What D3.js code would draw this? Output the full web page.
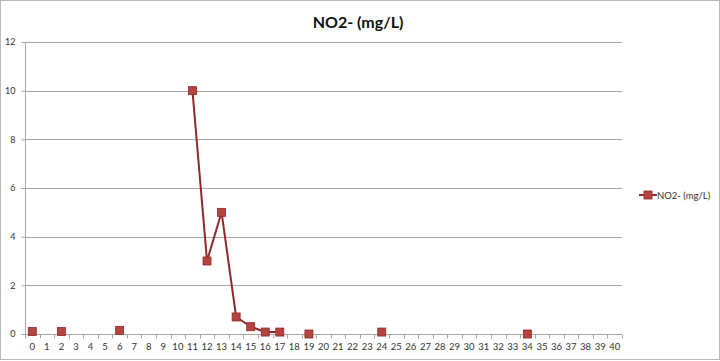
<!DOCTYPE html>
<html><head><meta charset="utf-8">
<script src="https://cdn.jsdelivr.net/npm/d3@7"></script>
<style>body{margin:0;background:#fff}svg{display:block}</style>
</head><body>
<svg id="c" width="720" height="361"></svg>
<script>
const categories = d3.range(0, 41).map(String);
const xValues = [0, 2, 6, 11, 12, 13, 14, 15, 16, 17, 19, 24, 34];
const no2Values = [0.1, 0.1, 0.15, 10, 3, 5, 0.7, 0.3, 0.08, 0.08, 0, 0.08, 0];
const yTicks = [0, 2, 4, 6, 8, 10, 12];
const seriesName = "NO2- (mg/L)";
const title = "NO2- (mg/L)";

(function () {
const font = "Lato, 'Open Sans', sans-serif";
const svg = d3.select("#c");
const pLeft = 25, pRight = 622, pTop = 42, pBottom = 334;
const lineColor = "#8E2A28", markFill = "#B5443F", markStroke = "#8E2A28";

svg.append("rect").attr("x", 0.5).attr("y", 0.5).attr("width", 719).attr("height", 359)
  .attr("fill", "#fff").attr("stroke", "#B8B8B8");

const x = d3.scaleBand().domain(categories).range([pLeft, pRight]);
const y = d3.scaleLinear().domain([0, 12]).range([pBottom, pTop]);

svg.append("g").selectAll("line").data(yTicks.filter(d => d > 0)).join("line")
  .attr("x1", pLeft).attr("x2", pRight)
  .attr("y1", d => Math.round(y(d)) + 0.5).attr("y2", d => Math.round(y(d)) + 0.5)
  .attr("stroke", "#A6A6A6").attr("stroke-width", 1);

const ya = svg.append("g").attr("transform", `translate(${pLeft + 0.5},0)`)
  .call(d3.axisLeft(y).tickValues(yTicks).tickSize(4).tickPadding(6));
ya.select(".domain").attr("stroke", "#A6A6A6").attr("d", `M0,${pTop}V${pBottom}`);
ya.selectAll(".tick line").attr("stroke", "#A6A6A6");
ya.selectAll(".tick text").attr("font-family", font).attr("font-size", 9).attr("fill", "#333");

const xa = svg.append("g").attr("transform", `translate(0,${Math.round(pBottom) + 0.5})`)
  .call(d3.axisBottom(x).tickSize(0).tickPadding(9));
xa.select(".domain").attr("stroke", "#A6A6A6").attr("d", `M${pLeft},0H${pRight}`);
xa.selectAll(".tick text").attr("font-family", font).attr("font-size", 9.5).attr("fill", "#333");
xa.append("g").selectAll("line").data(categories.concat(["end"])).join("line")
  .attr("x1", (d, i) => Math.round(pLeft + i * x.step()) + 0.5)
  .attr("x2", (d, i) => Math.round(pLeft + i * x.step()) + 0.5)
  .attr("y1", 0).attr("y2", 4).attr("stroke", "#A6A6A6");

const pts = xValues.map((c, i) => ({c: String(c), v: no2Values[i], n: c}));
const cx = d => x(d.c) + x.bandwidth() / 2;
const line = d3.line().x(cx).y(d => y(d.v));
const segs = [];
let cur = [];
pts.forEach((p, i) => {
  if (i > 0 && p.n - pts[i - 1].n !== 1) { segs.push(cur); cur = []; }
  cur.push(p);
});
segs.push(cur);
svg.append("g").selectAll("path").data(segs.filter(s => s.length > 1)).join("path")
  .attr("d", line).attr("fill", "none").attr("stroke", lineColor).attr("stroke-width", 2);

svg.append("g").selectAll("rect").data(pts).join("rect")
  .attr("x", d => cx(d) - 4).attr("y", d => y(d.v) - 4)
  .attr("width", 8).attr("height", 8)
  .attr("fill", markFill).attr("stroke", markStroke).attr("stroke-width", 0.8);

svg.append("text").attr("x", 358).attr("y", 28).attr("text-anchor", "middle")
  .attr("font-family", font).attr("font-weight", "bold").attr("font-size", 16)
  .attr("fill", "#111").text(title);

const lg = svg.append("g").attr("transform", "translate(639,195)");
lg.append("line").attr("x1", 0).attr("x2", 18).attr("y1", 0).attr("y2", 0)
  .attr("stroke", lineColor).attr("stroke-width", 2);
lg.append("rect").attr("x", 5).attr("y", -4).attr("width", 8).attr("height", 8)
  .attr("fill", markFill).attr("stroke", markStroke).attr("stroke-width", 0.8);
lg.append("text").attr("x", 18).attr("y", 3.5).attr("font-family", font).attr("font-size", 9.5)
  .attr("fill", "#333").text(seriesName);
})();
</script>
</body></html>
